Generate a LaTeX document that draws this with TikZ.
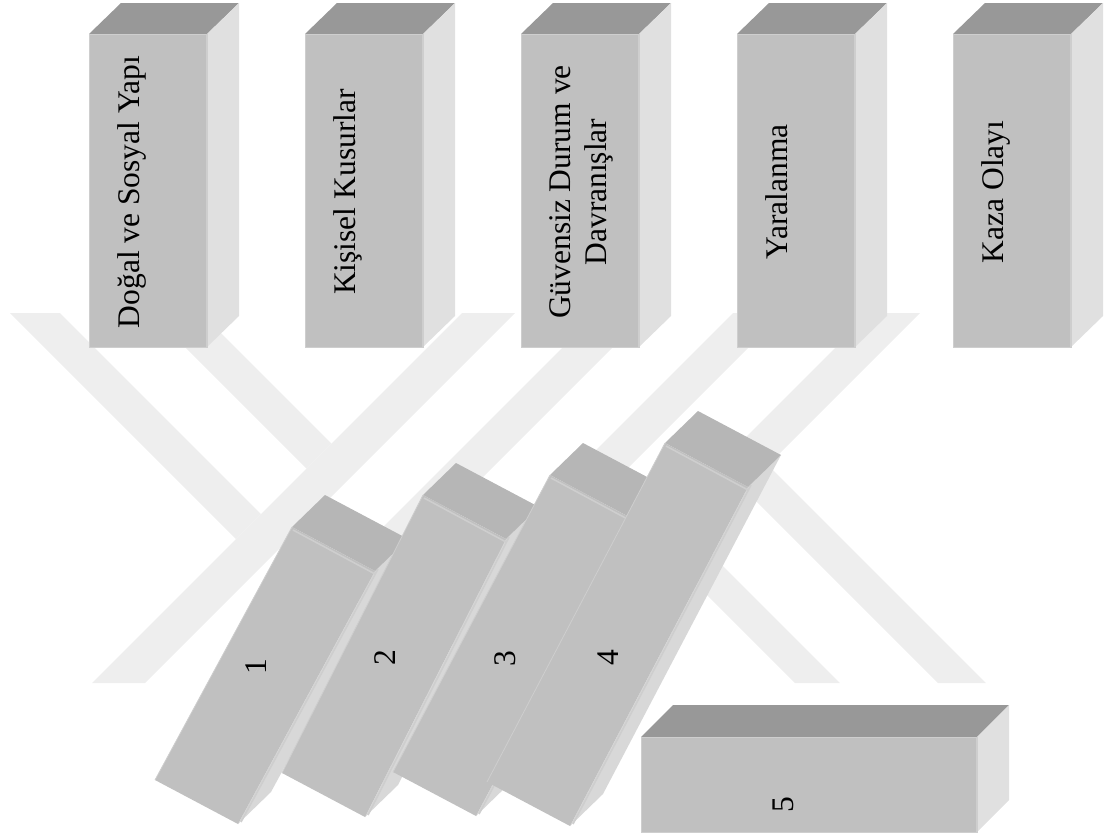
\documentclass[tikz,border=0pt]{standalone}
\usepackage{fontspec}
\setmainfont{Liberation Serif}
\usetikzlibrary{calc}
\definecolor{wmgray}{RGB}{238,238,238}
\definecolor{facegray}{RGB}{192,192,192}
\definecolor{lidgray}{RGB}{152,152,152}
\definecolor{sidegray}{RGB}{224,224,224}
\definecolor{domlid}{RGB}{182,182,182}
\definecolor{domside}{RGB}{216,216,216}
\definecolor{edgegray}{RGB}{206,206,206}

\begin{document}
\begin{tikzpicture}[x=0.5pt, y=-0.5pt,
  wmband/.style={fill=wmgray, draw=none},
  cubeface/.style={fill=facegray, draw=edgegray, line width=0.3pt},
  cubelid/.style={fill=lidgray},
  cubeside/.style={fill=sidegray},
  domface/.style={fill=facegray},
  domlidface/.style={fill=domlid},
  domsideface/.style={fill=domside},
  hilite/.style={draw=edgegray, line width=0.8pt},
  boxtext/.style={rotate=90, inner sep=0pt, align=center,
    font=\fontsize{15.75}{18}\selectfont},
]
  \useasboundingbox (0,0) rectangle (1104,836);

  % watermark
  \fill[wmband] (10,313) -- (60,313) -- (261,514) -- (236,539) -- cycle;
  \fill[wmband] (151,313) -- (201,313) -- (331.5,443.5) -- (306.5,468.5) -- cycle;
  \fill[wmband] (462,313) -- (515,313) -- (145,683) -- (92,683) -- cycle;
  \fill[wmband] (597,313) -- (647,313) -- (277,683) -- (227,683) -- cycle;
  \fill[wmband] (733,313) -- (783,313) -- (413,683) -- (363,683) -- cycle;
  \fill[wmband] (870,313) -- (920,313) -- (550,683) -- (500,683) -- cycle;
  \fill[wmband] (604,492) -- (626.5,469.5) -- (840,683) -- (795,683) -- cycle;
  \fill[wmband] (744,489) -- (768,465) -- (986,683) -- (938,683) -- cycle;

  % upright boxes
  \foreach \x/\lab/\nm in {89/{Doğal ve Sosyal Yapı}/yapi,
      305/{Kişisel Kusurlar}/kusur,
      521/{Güvensiz Durum ve\\Davranışlar}/guvensiz,
      737/{Yaralanma}/yara,
      953/{Kaza Olayı}/kaza} {
    \fill[cubelid] (\x,34) -- ++(32,-31) -- ++(118,0) -- ++(-32,31) -- cycle;
    \fill[cubeside] (\x+118,34) -- ++(32,-31) -- ++(0,313) -- ++(-32,31) -- cycle;
    \draw[cubeface] (\x,34) rectangle ++(118,313);
    \draw[hilite] (\x+118,34) -- ++(0,313);
    \node[boxtext, anchor=north] (\nm) at (\x+28,192) {\lab};
  }

  % falling dominoes, each one lies over the one before
  \foreach \i/\bx/\by/\hx/\hy/\dx/\dy in {1/155/780/137/253/256/667,
      2/282/773/141/278/385/658,
      3/393/772/157/297/505/659,
      4/487/782/178/339/608/658} {
    \fill[domsideface] (\bx+83,\by+44) -- ++(\hx,-\hy) -- ++(33,-32) -- ++(-\hx,\hy) -- cycle;
    \fill[domlidface] (\bx+\hx,\by-\hy) -- ++(33,-32) -- ++(83,44) -- ++(-33,32) -- cycle;
    \fill[domface] (\bx,\by) -- ++(\hx,-\hy) -- ++(83,44) -- ++(-\hx,\hy) -- cycle;
    \draw[hilite] (\bx+\hx+1,\by-\hy+3) -- ++(82,44);
    \draw[hilite] (\bx+86,\by+42) -- ++(\hx,-\hy);
    \draw[edgegray, line width=0.4pt] (\bx,\by) -- ++(\hx,-\hy);
    \node[boxtext] (n\i) at (\dx,\dy) {\i};
  }

  % fallen box
  \fill[cubelid] (641,737) -- ++(32,-32) -- ++(336,0) -- ++(-32,32) -- cycle;
  \fill[cubeside] (977,737) -- ++(32,-32) -- ++(0,95) -- ++(-32,32) -- cycle;
  \draw[cubeface] (641,737) rectangle (977,832);
  \draw[hilite] (977,737) -- (977,832);
  \node[boxtext] (n5) at (783,805) {5};
\end{tikzpicture}
\end{document}
